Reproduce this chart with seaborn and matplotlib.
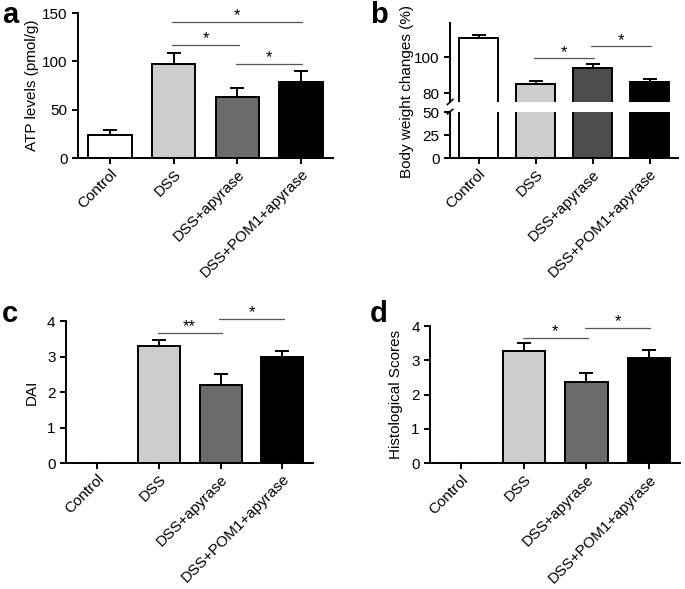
import matplotlib
matplotlib.use("Agg")
import matplotlib.pyplot as plt
import seaborn as sns
import pandas as pd

groups = ["Control", "DSS", "DSS+apyrase", "DSS+POM1+apyrase"]

atp_mean = [24, 97, 63, 79]
atp_err = [5, 12, 10, 11]

bw_mean = [110.5, 85, 94, 86]
bw_err = [2, 1.8, 2, 1.8]

dai_mean = [0, 3.30, 2.20, 2.98]
dai_err = [0, 0.17, 0.32, 0.17]

hist_mean = [0, 3.26, 2.37, 3.08]
hist_err = [0, 0.24, 0.25, 0.21]

# significance brackets: (left group, right group, height, label)
atp_sig = [(1, 3, 141, "*"), (1, 2, 117, "*"), (2, 3, 97, "*")]
bw_sig = [(1, 2, 99.3, "*"), (2, 3, 106, "*")]
dai_sig = [(1, 2, 3.67, "**"), (2, 3, 4.06, "*")]
hist_sig = [(1, 2, 3.66, "*"), (2, 3, 3.93, "*")]

sns.set_style("ticks")
plt.rcParams["font.family"] = ["Liberation Sans", "DejaVu Sans"]
plt.rcParams["font.size"] = 11
plt.rcParams["axes.linewidth"] = 1.4
plt.rcParams["xtick.major.width"] = 1.4
plt.rcParams["ytick.major.width"] = 1.4
plt.rcParams["xtick.major.size"] = 4
plt.rcParams["ytick.major.size"] = 4
plt.rcParams["xtick.major.pad"] = 2.5
for key in ["text.color", "axes.labelcolor", "xtick.color", "ytick.color", "axes.edgecolor"]:
    plt.rcParams[key] = "black"

colors_a = ["#ffffff", "#cdcdcd", "#6b6b6b", "#000000"]
colors_b = ["#ffffff", "#cdcdcd", "#4d4d4d", "#000000"]

fig = plt.figure(figsize=(6.85, 5.89), dpi=100)


def bars(ax, mean, err, colors):
    df = pd.DataFrame({"group": groups, "value": mean})
    sns.barplot(data=df, x="group", y="value", hue="group", palette=colors,
                order=groups, width=0.68, edgecolor="black", linewidth=1.4,
                legend=False, ax=ax, saturation=1)
    ax.errorbar(range(len(groups)), mean, yerr=[[0] * len(err), err], fmt="none",
                ecolor="black", elinewidth=1.4, capsize=5, capthick=1.4, zorder=1)
    ax.set_xlim(-0.5, 3.5)
    ax.set_xlabel("")
    ax.set_ylabel("")


def sig(ax, pairs, offset):
    for i, j, h, lab in pairs:
        ax.plot([i - 0.02, j + 0.02], [h, h], color="#555555", lw=0.9, clip_on=False)
        ax.text((i + j) / 2, h + offset, lab, ha="center", va="bottom", fontsize=12)


def xlabels(ax):
    ax.set_xticks(range(len(groups)))
    ax.set_xticklabels(groups, rotation=45, ha="right", rotation_mode="anchor", fontsize=11)


# panel a
ax_a = fig.add_axes([0.114, 0.7317, 0.372, 0.246])
bars(ax_a, atp_mean, atp_err, colors_a)
ax_a.set_ylim(0, 150)
ax_a.set_yticks([0, 50, 100, 150])
ax_a.set_ylabel("ATP levels (pmol/g)", labelpad=2)
sig(ax_a, atp_sig, -1)
xlabels(ax_a)
sns.despine(ax=ax_a)

# panel b (broken axis)
ax_b_lo = fig.add_axes([0.657, 0.7317, 0.333, 0.078])
ax_b_hi = fig.add_axes([0.657, 0.8268, 0.333, 0.134])
bars(ax_b_lo, bw_mean, bw_err, colors_b)
bars(ax_b_hi, bw_mean, bw_err, colors_b)
ax_b_lo.set_ylim(0, 50)
ax_b_lo.set_yticks([0, 25, 50])
ax_b_hi.set_ylim(75, 119)
ax_b_hi.set_yticks([80, 100])
ax_b_hi.set_xticks([])
sns.despine(ax=ax_b_lo)
sns.despine(ax=ax_b_hi, bottom=True)
xlabels(ax_b_lo)
sig(ax_b_hi, bw_sig, -1)
kw = dict(color="black", lw=1.2, clip_on=False)
ax_b_hi.plot([-0.55, -0.45], [73.5, 76.5], **kw)
ax_b_lo.plot([-0.55, -0.45], [48, 53], **kw)
fig.text(0.594, 0.845, "Body weight changes (%)", rotation=90, ha="center", va="center")

# panel c
ax_c = fig.add_axes([0.0964, 0.2139, 0.361, 0.241])
bars(ax_c, dai_mean, dai_err, colors_a)
ax_c.set_ylim(0, 4)
ax_c.set_yticks([0, 1, 2, 3, 4])
ax_c.set_ylabel("DAI", labelpad=6)
sig(ax_c, dai_sig, -0.03)
xlabels(ax_c)
sns.despine(ax=ax_c)

# panel d
ax_d = fig.add_axes([0.628, 0.2134, 0.365, 0.233])
bars(ax_d, hist_mean, hist_err, colors_a)
ax_d.set_ylim(0, 4)
ax_d.set_yticks([0, 1, 2, 3, 4])
ax_d.set_ylabel("Histological Scores", labelpad=6)
sig(ax_d, hist_sig, -0.03)
xlabels(ax_d)
sns.despine(ax=ax_d)

for lab, x, y in [("a", 0.003, 0.998), ("b", 0.54, 0.998), ("c", 0.003, 0.49), ("d", 0.54, 0.49)]:
    fig.text(x, y, lab, fontsize=21, fontweight="bold", ha="left", va="top")

plt.savefig("out.png", dpi=100)
